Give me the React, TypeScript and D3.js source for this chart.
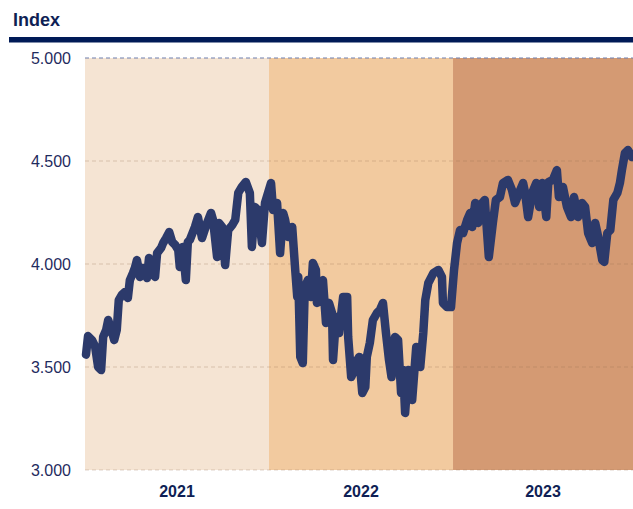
import React from 'react';
import * as d3 from 'd3';

// index readings (date, value) taken off the reference chart
const dates: string[] = [
  '2021-01-03', '2021-01-07', '2021-01-15', '2021-01-21', '2021-01-27', '2021-02-02', '2021-02-06', '2021-02-12',
  '2021-02-16', '2021-02-24', '2021-02-28', '2021-03-05', '2021-03-09', '2021-03-15', '2021-03-21', '2021-03-27',
  '2021-03-31', '2021-04-06', '2021-04-10', '2021-04-14', '2021-04-20', '2021-04-26', '2021-05-04', '2021-05-08',
  '2021-05-14', '2021-05-20', '2021-05-24', '2021-06-01', '2021-06-05', '2021-06-11', '2021-06-17', '2021-06-23',
  '2021-06-29', '2021-07-05', '2021-07-08', '2021-07-14', '2021-07-20', '2021-07-24', '2021-07-28', '2021-08-07',
  '2021-08-13', '2021-08-21', '2021-08-31', '2021-09-08', '2021-09-12', '2021-09-20', '2021-09-24', '2021-09-30',
  '2021-10-06', '2021-10-12', '2021-10-20', '2021-10-26', '2021-11-01', '2021-11-08', '2021-11-16', '2021-11-24',
  '2021-11-28', '2021-12-04', '2021-12-10', '2021-12-18', '2021-12-24', '2021-12-30',
  '2022-01-05', '2022-01-09', '2022-01-17', '2022-01-23', '2022-01-29', '2022-02-02', '2022-02-08', '2022-02-16',
  '2022-02-22', '2022-02-26', '2022-02-28', '2022-03-04', '2022-03-09', '2022-03-13', '2022-03-19', '2022-03-25',
  '2022-03-29', '2022-04-04', '2022-04-06', '2022-04-10', '2022-04-18', '2022-04-24', '2022-04-30', '2022-05-06',
  '2022-05-08', '2022-05-14', '2022-05-20', '2022-05-28', '2022-06-05', '2022-06-07', '2022-06-13', '2022-06-17',
  '2022-06-25', '2022-06-29', '2022-07-05', '2022-07-11', '2022-07-14', '2022-07-20', '2022-07-26', '2022-08-03',
  '2022-08-09', '2022-08-15', '2022-08-21', '2022-08-27', '2022-09-01', '2022-09-08', '2022-09-14', '2022-09-20',
  '2022-09-24', '2022-09-28', '2022-10-04', '2022-10-12', '2022-10-20', '2022-10-28', '2022-11-03', '2022-11-07',
  '2022-11-13', '2022-11-23', '2022-12-03', '2022-12-10', '2022-12-12', '2022-12-20', '2022-12-28',
  '2023-01-03', '2023-01-09', '2023-01-15', '2023-01-21', '2023-01-29', '2023-02-04', '2023-02-08', '2023-02-14',
  '2023-02-20', '2023-02-28', '2023-03-05', '2023-03-13', '2023-03-21', '2023-03-27', '2023-04-04', '2023-04-10',
  '2023-04-20', '2023-04-28', '2023-05-04', '2023-05-12', '2023-05-20', '2023-05-24', '2023-05-30', '2023-06-07',
  '2023-06-15', '2023-06-21', '2023-06-27', '2023-07-05', '2023-07-09', '2023-07-18', '2023-07-26', '2023-07-30',
  '2023-08-07', '2023-08-15', '2023-08-23', '2023-08-29', '2023-09-06', '2023-09-14', '2023-09-20', '2023-09-26',
  '2023-10-04', '2023-10-10', '2023-10-16', '2023-10-24', '2023-10-28', '2023-11-03', '2023-11-09', '2023-11-15',
  '2023-11-23', '2023-11-28', '2023-12-02', '2023-12-08', '2023-12-14', '2023-12-22',
];

const values: number[] = [
  3.56, 3.65, 3.63, 3.6, 3.5, 3.485, 3.646, 3.68,
  3.728, 3.665, 3.631, 3.68, 3.825, 3.85, 3.864, 3.835,
  3.922, 3.956, 3.981, 4.019, 3.937, 3.981, 3.932, 4.029,
  3.956, 3.937, 4.053, 4.078, 4.102, 4.126, 4.155, 4.107,
  4.092, 4.068, 3.985, 4.083, 3.922, 4.107, 4.117, 4.18,
  4.228, 4.126, 4.199, 4.248, 4.214, 4.034, 4.199, 4.18,
  3.995, 4.165, 4.189, 4.214, 4.345, 4.374, 4.398, 4.345,
  4.083, 4.277, 4.262, 4.102, 4.296, 4.345,
  4.393, 4.262, 4.296, 4.053, 4.248, 4.214, 4.131, 4.18,
  3.971, 3.84, 3.937, 3.549, 3.519, 3.888, 3.922, 3.84,
  4.005, 3.971, 3.811, 3.874, 3.922, 3.714, 3.811, 3.762,
  3.534, 3.743, 3.665, 3.84, 3.84, 3.646, 3.451, 3.471,
  3.534, 3.549, 3.374, 3.403, 3.549, 3.617, 3.728, 3.762,
  3.777, 3.811, 3.665, 3.534, 3.451, 3.646, 3.631, 3.374,
  3.485, 3.277, 3.485, 3.34, 3.597, 3.5, 3.665, 3.825,
  3.908, 3.956, 3.971, 3.937, 3.811, 3.791, 3.791,
  3.971, 4.102, 4.165, 4.15, 4.214, 4.248, 4.18, 4.296,
  4.199, 4.296, 4.311, 4.034, 4.199, 4.311, 4.325, 4.393,
  4.408, 4.359, 4.296, 4.345, 4.393, 4.345, 4.228, 4.345,
  4.393, 4.277, 4.393, 4.228, 4.398, 4.408, 4.456, 4.325,
  4.374, 4.277, 4.228, 4.325, 4.228, 4.296, 4.277, 4.15,
  4.102, 4.199, 4.131, 4.019, 4.01, 4.15, 4.165, 4.311,
  4.345, 4.393, 4.456, 4.539, 4.553, 4.519,
];

const years = ['2021', '2022', '2023'];
const yearColors = ['#F5E4D3', '#F2CA9F', '#D49A73'];
const yTicks = [3.0, 3.5, 4.0, 4.5, 5.0];

const W = 633;
const H = 509;
const margin = { top: 58, right: 0, bottom: 39, left: 85 };
const font = 'Liberation Sans, Arial, Helvetica, sans-serif';
const navy = '#0F1F55';

export default function App() {
  const parse = d3.timeParse('%Y-%m-%d');
  const data = dates.map((d, i) => ({ date: parse(d) as Date, value: values[i] }));

  const x = d3
    .scaleTime()
    .domain([new Date(2021, 0, 1), new Date(2023, 11, 24)])
    .range([margin.left, W - margin.right]);
  const y = d3
    .scaleLinear()
    .domain([3, 5])
    .range([H - margin.bottom, margin.top]);

  const line = d3
    .line<{ date: Date; value: number }>()
    .x(d => x(d.date))
    .y(d => y(d.value));

  const [x0, x1] = x.range();

  return (
    <svg width={W} height={H} style={{ position: 'absolute', left: 0, top: 0, background: '#fff' }}>
      <text x={13} y={26} fontFamily={font} fontWeight="bold" fontSize={18} fill={navy}>
        Index
      </text>
      <rect x={9} y={37} width={W - 9} height={5.5} fill="#001A57" />

      {years.map((yr, i) => {
        const start = Math.max(x(new Date(+yr, 0, 1)), x0);
        const end = Math.min(x(new Date(+yr + 1, 0, 1)), x1);
        return (
          <rect
            key={yr}
            x={start}
            y={y(5)}
            width={end - start}
            height={y(3) - y(5)}
            fill={yearColors[i]}
          />
        );
      })}

      {yTicks.map(t => (
        <line
          key={t}
          x1={x0}
          x2={x1}
          y1={y(t)}
          y2={y(t)}
          stroke={t === 5 ? '#6F7FAE' : 'rgba(150,110,80,0.3)'}
          strokeWidth={1}
          strokeDasharray="4,3"
        />
      ))}

      {yTicks.map(t => (
        <text
          key={'l' + t}
          x={71}
          y={y(t)}
          dy="0.36em"
          textAnchor="end"
          fontFamily={font}
          fontSize={16}
          fill="#1F2B5E"
        >
          {d3.format('.3f')(t)}
        </text>
      ))}

      {years.map(yr => {
        const start = Math.max(x(new Date(+yr, 0, 1)), x0);
        const end = Math.min(x(new Date(+yr + 1, 0, 1)), x1);
        return (
          <text
            key={'y' + yr}
            x={(start + end) / 2}
            y={497}
            textAnchor="middle"
            fontFamily={font}
            fontWeight="bold"
            fontSize={16}
            fill={navy}
          >
            {yr}
          </text>
        );
      })}

      <path
        d={line(data) || ''}
        fill="none"
        stroke="#2C3A6B"
        strokeWidth={8.5}
        strokeLinejoin="round"
        strokeLinecap="round"
      />
    </svg>
  );
}
